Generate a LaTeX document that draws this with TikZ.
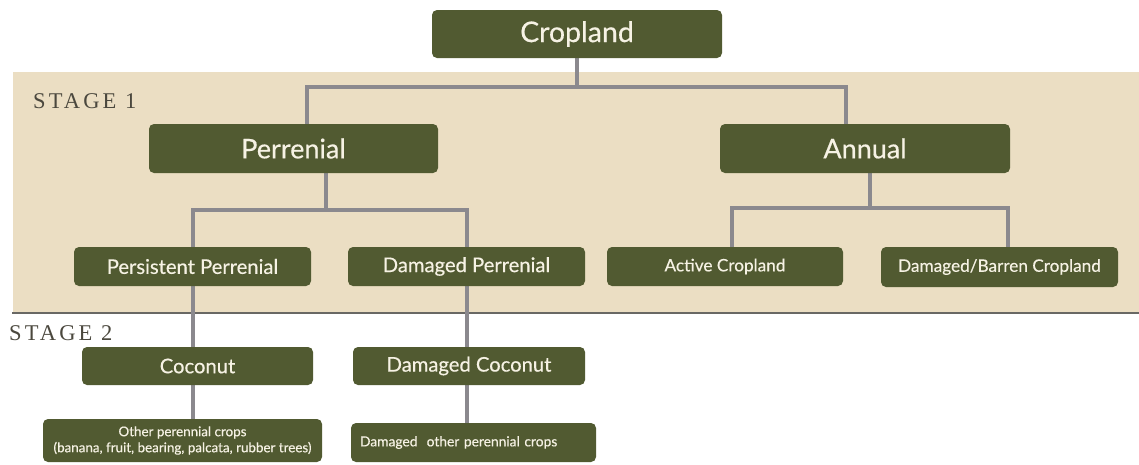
\documentclass[tikz,border=0pt]{standalone}
\usepackage{fontspec}
\setmainfont{Lato}[FakeBold=0.4]
\newfontfamily\stagefont[LetterSpace=14]{Liberation Serif}
\usetikzlibrary{backgrounds}
\definecolor{cropgreen}{RGB}{81,90,49}
\definecolor{bandbeige}{RGB}{235,222,195}
\definecolor{linkgrey}{RGB}{139,137,142}
\definecolor{edgegrey}{RGB}{105,104,100}
\definecolor{boxtext}{RGB}{246,242,228}
\definecolor{stagegrey}{RGB}{75,72,62}
\tikzset{
  box/.style={rectangle,rounded corners=5pt,fill=cropgreen,text=boxtext,inner sep=0pt,align=center}, % green box
  topbox/.style={box,minimum width=290pt,minimum height=48pt,font=\fontsize{27}{29}\selectfont},
  midbox/.style={box,minimum width=237pt,minimum height=39pt,font=\fontsize{20.2}{23}\selectfont},
  annbox/.style={midbox,font=\fontsize{17.2}{20}\selectfont},
  smallbox/.style={box,minimum height=40pt,font=\fontsize{13.4}{16}\selectfont},
  link/.style={draw=linkgrey,line width=4pt},                  % grey connector
  stagelbl/.style={anchor=base west,inner sep=0pt,text=stagegrey,font=\stagefont\fontsize{22.5}{25}\selectfont},
}

\begin{document}
\begin{tikzpicture}[x=1pt,y=-1pt]
  \useasboundingbox (0,0) rectangle (1139,464);
  % stage 1
  \node[topbox,font=\fontsize{28.5}{30}\selectfont] (crop) at (577,34) {Cropland};
  \node[topbox,minimum width=289pt,minimum height=49pt] (per) at (293.5,148.5) {Perrenial};
  \node[topbox,minimum height=49pt] (ann) at (865,148.5) {Annual};
  \node[midbox] (pp) at (192.5,266.5) {Persistent Perrenial};
  \node[midbox] (dp) at (466.5,266.5) {Damaged Perrenial};
  \node[annbox,minimum width=236pt] (act) at (725,266.5) {Active Cropland};
  \node[annbox,minimum height=40pt] (dbc) at (999.5,267) {Damaged/Barren Cropland};
  \node[stagelbl] (st1) at (33,108) {STAGE 1};
  % stage 2
  \node[stagelbl] (st2) at (9,340) {STAGE 2};
  \node[midbox,minimum width=231pt,minimum height=38pt] (coco) at (197.5,366) {Coconut};
  \node[midbox,minimum width=232pt,minimum height=38pt] (dcoco) at (469,366) {Damaged Coconut};
  \node[smallbox,minimum width=279pt,minimum height=43pt] (oth) at (182.5,440.5)
    {Other perennial crops\\(banana, fruit, bearing, palcata, rubber trees)};
  \node[smallbox,text width=227pt,inner xsep=9pt,minimum height=39pt,align=left,font=\fontsize{13.8}{16}\selectfont] (doth) at (473.5,442.5)
    {Damaged~ other perennial crops};

  \begin{pgfonlayer}{background}
    \fill[bandbeige] (13,72) rectangle (1139,313);
    \draw[edgegrey,line width=2.5pt] (12,313) -- (1139,313);
    % connectors
    \coordinate (f1) at (577,87);
    \coordinate (f2) at (326,210);
    \coordinate (f3) at (870,208);
    \draw[link] (crop.south) -- (f1);
    \draw[link] ([xshift=13.5pt]per.north) |- (f1) -| ([xshift=-19pt]ann.north);
    \draw[link] ([xshift=32.5pt]per.south) -- (f2);
    \draw[link] (pp.north) |- (f2) -| (dp.north);
    \draw[link] ([xshift=5pt]ann.south) -- (f3);
    \draw[link] ([xshift=7pt]act.north) |- (f3) -| ([xshift=8.5pt]dbc.north);
    \draw[link] (pp.south) -- (pp.south |- coco.north);
    \draw[link] (pp.south |- coco.south) -- (pp.south |- oth.north);
    \draw[link] (dp.south) -- (dp.south |- dcoco.north);
    \draw[link] (dp.south |- dcoco.south) -- (dp.south |- doth.north);
  \end{pgfonlayer}
\end{tikzpicture}
\end{document}
